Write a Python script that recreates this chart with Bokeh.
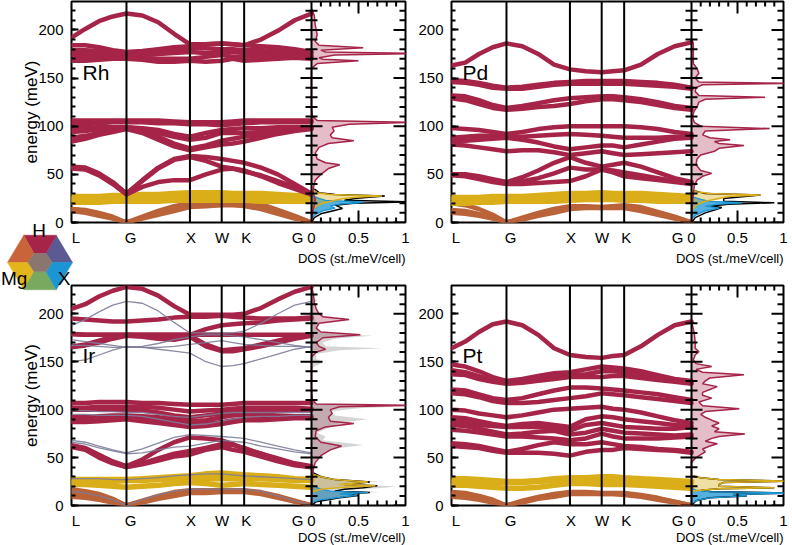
import math
from bokeh.plotting import figure
from bokeh.models import (Range1d, LinearAxis, SingleIntervalTicker, FixedTicker,
                          Span, GridBox)
from bokeh.layouts import column, row
from bokeh.core.properties import value
from bokeh.embed import file_html
from bokeh.resources import INLINE

FONT = "Liberation Sans"

# ---------------- path / axes ----------------
K_LABELS = ["L", "G", "X", "W", "K", "G"]
K_TICKS = [0.0, 0.866, 1.866, 2.366, 2.72, 3.781]
K_PTS = [0.0, 0.217, 0.433, 0.65, 0.866, 1.116, 1.366, 1.616, 1.866,
         2.116, 2.366, 2.543, 2.72, 2.985, 3.25, 3.516, 3.781]
Y_MAX = 229.5
Y_MAJOR = [0, 50, 100, 150, 200]
Y_MINOR = [v for v in range(0, 230, 10) if v % 50]
DOS_LABELS = [0, 0.5, 1]
DOS_MAJOR_IN = [0.5]
DOS_MINOR = [0.1, 0.2, 0.3, 0.4, 0.6, 0.7, 0.8, 0.9]

# ---------------- Rh ----------------
RH_H_BANDS = [
    [192, 201, 209, 214, 217, 215, 208, 196, 185, 185, 186, 185, 184, 190, 199, 210, 217],
    [184, 184, 182, 179, 177, 178, 180, 182, 183, 185, 186, 185, 184, 183, 182, 180, 177],
    [179, 179, 178, 177, 176, 177, 179, 180, 181, 181, 180, 180, 179, 179, 178, 177, 176],
    [175, 175, 175, 174, 173, 174, 175, 176, 177, 176, 176, 177, 176, 175, 175, 174, 173],
    [171, 171, 171, 172, 172, 171, 170, 170, 170, 172, 174, 172, 172, 173, 173, 172, 172],
    [168, 168, 169, 170, 170, 169, 167, 167, 168, 167, 168, 170, 168, 169, 170, 171, 170],
    [106, 106, 106, 106, 106, 106, 106, 105, 104, 104, 104, 105, 106, 106, 106, 106, 106],
    [102, 102, 103, 104, 104, 104, 103, 103, 102, 102, 101, 102, 103, 104, 104, 104, 104],
    [98, 98, 99, 99, 99, 98, 96, 92, 89, 93, 96, 97, 98, 98, 99, 99, 99],
    [94, 95, 97, 98, 99, 97, 93, 89, 86, 88, 93, 93, 93, 94, 96, 97, 99],
    [88, 90, 93, 96, 98, 95, 89, 82, 77, 80, 85, 87, 89, 91, 94, 96, 98],
    [84, 87, 91, 94, 97, 93, 86, 79, 75, 78, 81, 82, 84, 88, 92, 95, 97],
    [58, 57, 51, 42, 30, 44, 57, 66, 69, 68, 66, 64, 62, 57, 50, 40, 30],
    [57, 56, 50, 41, 30, 43, 56, 65, 68, 64, 58, 56, 53, 49, 43, 37, 30],
    [56, 55, 49, 40, 29, 37, 42, 44, 44, 50, 55, 56, 54, 48, 41, 35, 29],
]
RH_MG_BANDS = [
    [27, 27, 27, 28, 28, 29, 29, 30, 31, 31, 31, 30, 30, 30, 29, 28, 28],
    [24, 24, 24, 24, 25, 25, 26, 27, 27, 28, 28, 27, 26, 26, 25, 25, 25],
    [21, 21, 21, 22, 22, 22, 22, 23, 23, 23, 23, 23, 23, 22, 22, 22, 22],
]
RH_AC_BANDS = [
    [14, 13, 10, 6, 0, 6, 12, 17, 20, 21, 22, 22, 22, 19, 13, 7, 0],
    [14, 12, 9, 5, 0, 5, 10, 15, 18, 19, 20, 20, 20, 17, 12, 6, 0],
    [12, 10, 7, 4, 0, 4, 8, 12, 16, 17, 18, 18, 17, 14, 9, 4, 0],
]
RH_DOS_H_E = [0, 10, 18, 24, 30, 36, 44, 50, 56, 60, 62, 66, 72, 78, 82, 85, 88, 91, 95, 99,
              102, 104, 106, 110, 120, 160, 165, 168, 169.5, 171, 174, 175.5, 177, 179, 181.5,
              184, 188, 195, 205, 215, 222]
RH_DOS_H = [0, 0.01, 0.03, 0.04, 0.02, 0.02, 0.04, 0.1, 0.18, 0.3, 0.15, 0.06, 0.04, 0.08, 0.18,
            0.45, 0.22, 0.2, 0.24, 0.22, 0.4, 1.1, 0.06, 0.01, 0, 0, 0.06, 0.5, 0.12, 0.08, 0.25,
            1.1, 0.15, 0.1, 0.55, 0.08, 0.04, 0.06, 0.04, 0.03, 0]
RH_DOS_MG_E = [12, 17, 20, 23, 25, 26.5, 27.5, 29, 31, 34]
RH_DOS_MG = [0, 0.05, 0.12, 0.25, 0.35, 0.5, 0.75, 0.2, 0.06, 0]
RH_DOS_X_E = [4, 8, 12, 15, 17, 19, 20.5, 21.5, 23, 25, 28]
RH_DOS_X = [0, 0.04, 0.12, 0.25, 0.2, 0.3, 0.5, 0.55, 0.15, 0.08, 0]
RH_DOS_T_E = [0, 5, 9, 12, 14.5, 16, 18, 20, 21.5, 23, 25, 27.5, 29, 31, 35]
RH_DOS_T = [0, 0.03, 0.1, 0.22, 0.33, 0.3, 0.25, 0.45, 1.05, 0.35, 0.45, 0.78, 0.25, 0.08, 0.03]

# ---------------- Pd ----------------
PD_H_BANDS = [
    [163, 166, 175, 182, 186, 183, 175, 164, 159, 157, 156, 157, 158, 164, 175, 183, 187],
    [148, 147, 145, 142, 140, 141, 143, 145, 146, 147, 147, 147, 147, 146, 145, 143, 140],
    [146, 145, 143, 140, 139, 139, 141, 143, 144, 144, 144, 144, 144, 143, 142, 141, 139],
    [132, 131, 127, 122, 119, 121, 124, 127, 129, 130, 131, 131, 130, 128, 125, 121, 119],
    [129, 127, 123, 119, 117, 118, 120, 121, 123, 126, 128, 128, 127, 125, 122, 119, 117],
    [98, 97, 96, 94, 92, 94, 97, 99, 100, 100, 100, 100, 100, 99, 97, 94, 92],
    [88, 89, 90, 90, 89, 89, 90, 91, 92, 91, 90, 89, 88, 88, 88, 89, 89],
    [84, 85, 86, 87, 88, 86, 83, 79, 76, 78, 80, 80, 78, 81, 84, 87, 88],
    [81, 80, 78, 76, 74, 75, 75, 73, 70, 72, 74, 72, 70, 71, 72, 73, 74],
    [50, 50, 48, 45, 42, 47, 54, 62, 68, 62, 58, 60, 62, 58, 52, 46, 42],
    [50, 49, 47, 44, 41, 43, 46, 51, 57, 55, 55, 54, 52, 49, 46, 43, 41],
    [49, 48, 45, 42, 40, 40, 41, 42, 43, 48, 55, 52, 48, 46, 44, 42, 40],
]
PD_MG_BANDS = [
    [26, 26, 26, 27, 27, 27, 28, 29, 30, 30, 31, 30, 30, 30, 29, 28, 27],
    [24, 24, 24, 24, 24, 25, 25, 26, 27, 27, 28, 27, 27, 26, 26, 25, 24],
    [20, 20, 21, 21, 22, 22, 22, 22, 23, 24, 24, 24, 23, 23, 22, 22, 22],
]
PD_AC_BANDS = [
    [20, 18, 14, 8, 0, 5, 10, 14, 17, 17, 16, 17, 18, 16, 11, 6, 0],
    [13, 12, 9, 5, 0, 4, 8, 12, 16, 16, 15, 16, 17, 14, 9, 5, 0],
    [10, 9, 7, 4, 0, 3, 7, 10, 14, 15, 15, 15, 15, 12, 8, 4, 0],
]
PD_DOS_H_E = [0, 20, 30, 38, 44, 48, 51, 54, 60, 66, 70, 74, 77, 80, 82, 84, 86, 88, 91, 95,
              97.5, 100, 104, 110, 116, 120, 125, 128, 130, 132, 136, 140, 143, 144.5, 146, 150,
              155, 160, 165, 175, 185, 190]
PD_DOS_H = [0, 0.01, 0.02, 0.03, 0.06, 0.12, 0.22, 0.1, 0.05, 0.06, 0.1, 0.25, 0.3, 0.57, 0.3,
            0.25, 0.42, 0.2, 0.12, 0.15, 0.85, 0.1, 0.03, 0.01, 0.03, 0.06, 0.08, 0.15, 0.8, 0.08,
            0.04, 0.05, 0.12, 1.1, 0.08, 0.04, 0.08, 0.06, 0.02, 0.02, 0.02, 0]
PD_DOS_MG_E = [12, 18, 22, 25, 27, 28.5, 30, 32, 34]
PD_DOS_MG = [0, 0.05, 0.15, 0.3, 0.4, 0.75, 0.2, 0.05, 0]
PD_DOS_X_E = [4, 8, 12, 15, 17, 19, 20.5, 22, 24, 27]
PD_DOS_X = [0, 0.05, 0.15, 0.3, 0.15, 0.3, 0.55, 0.2, 0.1, 0]
PD_DOS_T_E = [0, 5, 10, 13, 15.5, 17, 19, 20.5, 22, 25, 28.5, 30, 33]
PD_DOS_T = [0, 0.04, 0.15, 0.25, 0.33, 0.2, 0.4, 0.9, 0.35, 0.35, 0.75, 0.15, 0.03]

# ---------------- Ir ----------------
IR_H_BANDS = [
    [205, 210, 218, 224, 228, 226, 219, 208, 199, 199, 199, 199, 200, 206, 215, 223, 228],
    [195, 194, 193, 192, 192, 193, 194, 196, 197, 197, 198, 197, 196, 195, 195, 195, 196],
    [179, 178, 178, 178, 178, 178, 178, 178, 178, 184, 188, 189, 190, 191, 193, 194, 195],
    [179, 178, 178, 178, 178, 178, 178, 178, 178, 178, 178, 178, 178, 178, 178, 178, 178],
    [166, 168, 172, 176, 178, 177, 175, 175, 177, 168, 162, 163, 164, 168, 172, 176, 178],
    [165, 167, 170, 174, 177, 176, 174, 173, 176, 166, 161, 161, 163, 166, 170, 174, 177],
    [107, 107, 108, 108, 108, 107, 107, 106, 105, 105, 105, 106, 107, 107, 107, 107, 107],
    [102, 102, 103, 103, 103, 103, 102, 100, 98, 99, 100, 101, 102, 102, 102, 102, 101],
    [100, 100, 100, 100, 100, 99, 97, 94, 92, 94, 96, 97, 98, 98, 99, 100, 100],
    [92, 92, 93, 94, 94, 93, 92, 90, 88, 89, 92, 94, 95, 95, 94, 93, 93],
    [88, 88, 89, 90, 91, 90, 88, 86, 84, 85, 87, 89, 90, 91, 91, 92, 92],
    [87, 87, 88, 89, 90, 88, 86, 84, 82, 83, 85, 87, 89, 89, 90, 91, 91],
    [63, 60, 53, 46, 41, 48, 58, 66, 71, 70, 68, 64, 59, 54, 49, 44, 41],
    [62, 59, 51, 45, 40, 44, 49, 54, 57, 60, 64, 63, 60, 54, 48, 43, 40],
    [61, 58, 50, 44, 40, 43, 47, 51, 53, 58, 61, 58, 56, 51, 46, 42, 40],
]
IR_MG_BANDS = [
    [27, 27, 27, 27, 27, 28, 29, 30, 31, 33, 34, 33, 32, 31, 30, 28, 27],
    [24, 24, 25, 25, 26, 26, 27, 28, 28, 28, 28, 28, 28, 28, 27, 26, 26],
    [22, 22, 21, 20, 19, 20, 21, 23, 24, 23, 21, 22, 23, 22, 21, 20, 19],
]
IR_AC_BANDS = [
    [17, 15, 12, 7, 0, 5, 10, 14, 16, 16, 16, 16, 16, 14, 10, 5, 0],
    [13, 12, 9, 5, 0, 4, 9, 12, 15, 15, 15, 15, 15, 13, 9, 4, 0],
    [9, 8, 6, 3, 0, 3, 7, 10, 13, 13, 14, 14, 14, 12, 8, 4, 0],
]
IR_REF_BANDS = [
    [188, 194, 202, 209, 213, 211, 203, 191, 180, 180, 180, 180, 182, 190, 200, 209, 213],
    [173, 171, 169, 167, 165, 166, 169, 173, 176, 178, 178, 177, 176, 173, 170, 167, 165],
    [167, 167, 166, 165, 165, 165, 165, 166, 168, 170, 172, 170, 168, 167, 166, 166, 165],
    [150, 152, 157, 162, 166, 165, 163, 161, 159, 150, 145, 146, 148, 153, 158, 163, 166],
    [99, 99, 98, 98, 97, 97, 95, 93, 92, 94, 96, 97, 97, 97, 97, 97, 97],
    [95, 95, 94, 94, 94, 93, 90, 87, 84, 85, 88, 90, 92, 93, 93, 94, 94],
    [68, 66, 62, 58, 55, 59, 65, 71, 74, 73, 72, 71, 70, 66, 62, 58, 55],
    [66, 64, 60, 57, 54, 55, 58, 61, 62, 65, 68, 67, 66, 62, 59, 56, 54],
    [28, 28, 28, 27, 27, 28, 29, 31, 32, 33, 33, 32, 31, 30, 29, 28, 27],
    [15, 13, 10, 6, 0, 6, 11, 15, 17, 17, 17, 17, 17, 15, 10, 5, 0],
]
IR_DOS_H_E = [0, 30, 38, 45, 52, 58, 62, 66, 72, 78, 82, 85.5, 88, 92, 96, 100, 103, 104.5, 106,
              110, 120, 155, 160, 163, 166, 170, 175, 178, 181, 185, 190, 194, 197, 200, 205, 212,
              220, 229]
IR_DOS_H = [0, 0.01, 0.02, 0.04, 0.1, 0.2, 0.32, 0.1, 0.04, 0.05, 0.15, 0.45, 0.2, 0.18, 0.22,
            0.2, 0.3, 1.1, 0.05, 0.01, 0, 0, 0.05, 0.15, 0.08, 0.05, 0.12, 0.52, 0.1, 0.05, 0.08,
            0.4, 0.12, 0.08, 0.05, 0.03, 0.02, 0]
IR_DOS_MG_E = [14, 17, 19, 20.5, 22, 24.5, 27, 30, 33]
IR_DOS_MG = [0, 0.1, 0.35, 0.68, 0.3, 0.6, 0.25, 0.1, 0]
IR_DOS_X_E = [3, 6, 8.5, 10.5, 12, 13.5, 15, 17, 19, 22]
IR_DOS_X = [0, 0.1, 0.3, 0.48, 0.3, 0.6, 0.2, 0.1, 0.05, 0]
IR_DOS_T_E = [0, 4, 8, 10.5, 12, 13.5, 15, 17, 18.5, 20.5, 22, 24.5, 27, 30, 34]
IR_DOS_T = [0, 0.05, 0.3, 0.5, 0.35, 0.62, 0.25, 0.35, 0.55, 0.7, 0.35, 0.62, 0.25, 0.1, 0.02]
IR_DOS_REF_E = [0, 5, 9, 11, 14, 16, 18.5, 20, 22, 25, 27, 30, 34, 45, 50, 56, 60, 63, 68, 72,
                76, 82, 86, 90, 94, 98, 101.5, 103, 106, 112, 140, 145, 149, 153, 158, 162, 164,
                166, 170, 174, 177, 180, 184, 190, 200, 210, 214, 218]
IR_DOS_REF = [0, 0.05, 0.45, 0.3, 0.72, 0.3, 0.78, 0.9, 0.4, 0.72, 0.3, 0.15, 0.03, 0.02, 0.06,
              0.15, 0.3, 0.55, 0.12, 0.15, 0.06, 0.2, 0.3, 0.6, 0.25, 0.2, 0.5, 0.9, 0.05, 0.01,
              0, 0.03, 0.12, 0.05, 0.05, 0.3, 0.75, 0.15, 0.12, 0.25, 0.65, 0.1, 0.05, 0.04, 0.03,
              0.02, 0.06, 0]

# ---------------- Pt ----------------
PT_H_BANDS = [
    [164, 171, 181, 189, 192, 188, 178, 164, 157, 155, 154, 156, 157, 166, 178, 188, 192],
    [147, 145, 140, 134, 130, 132, 135, 138, 139, 142, 145, 144, 143, 140, 136, 132, 130],
    [141, 139, 135, 131, 128, 130, 133, 135, 136, 137, 140, 140, 139, 137, 134, 130, 128],
    [137, 136, 132, 129, 127, 128, 130, 132, 134, 134, 134, 135, 135, 133, 131, 129, 127],
    [121, 120, 116, 112, 110, 112, 116, 120, 123, 123, 122, 121, 120, 118, 116, 113, 110],
    [117, 116, 113, 109, 107, 107, 108, 110, 112, 114, 117, 116, 115, 113, 111, 109, 107],
    [100, 99, 96, 94, 92, 94, 97, 100, 101, 102, 103, 101, 100, 97, 93, 89, 86],
    [92, 91, 88, 85, 83, 85, 86, 84, 82, 90, 93, 92, 90, 88, 86, 84, 83],
    [88, 87, 84, 83, 82, 82, 82, 80, 78, 84, 86, 84, 82, 81, 80, 80, 82],
    [84, 83, 80, 77, 74, 75, 77, 78, 74, 76, 80, 78, 76, 75, 74, 73, 74],
    [79, 78, 76, 74, 72, 72, 71, 70, 68, 70, 75, 72, 70, 70, 70, 71, 72],
    [65, 64, 62, 59, 56, 59, 63, 66, 64, 64, 66, 64, 62, 61, 59, 58, 56],
    [62, 61, 60, 57, 55, 55, 55, 54, 52, 56, 58, 58, 60, 59, 58, 57, 55],
]
PT_MG_BANDS = [
    [28, 28, 27, 26, 25, 25, 26, 28, 29, 29, 30, 30, 29, 28, 27, 26, 25],
    [24, 24, 24, 24, 24, 24, 25, 26, 27, 27, 27, 27, 26, 26, 25, 24, 24],
    [21, 21, 20, 19, 18, 18, 19, 21, 23, 23, 22, 22, 22, 21, 20, 19, 18],
]
PT_AC_BANDS = [
    [14, 13, 10, 6, 0, 5, 9, 12, 14, 14, 13, 13, 13, 11, 8, 4, 0],
    [12, 11, 8, 5, 0, 4, 8, 11, 13, 13, 12, 12, 12, 10, 7, 4, 0],
    [9, 8, 6, 3, 0, 3, 7, 9, 12, 12, 12, 12, 11, 9, 6, 3, 0],
]
PT_DOS_H_E = [0, 45, 50, 53, 56, 59, 62, 64.5, 67, 70, 72, 74.5, 77, 80, 83, 86, 89, 92, 95, 98,
              101, 104, 108, 112, 115, 118, 121, 124, 127, 130, 133, 136.5, 139, 142, 145, 148,
              152, 157, 160.5, 164, 170, 180, 192]
PT_DOS_H = [0, 0, 0.05, 0.1, 0.15, 0.12, 0.2, 0.28, 0.15, 0.22, 0.3, 0.58, 0.25, 0.3, 0.22, 0.3,
            0.22, 0.15, 0.1, 0.15, 0.52, 0.12, 0.08, 0.22, 0.12, 0.12, 0.2, 0.28, 0.12, 0.15, 0.2,
            0.57, 0.12, 0.05, 0.22, 0.05, 0.02, 0.04, 0.08, 0.04, 0.04, 0.03, 0]
PT_DOS_MG_E = [15, 17.5, 18.5, 20, 22, 24, 25.5, 27, 29, 31]
PT_DOS_MG = [0, 0.3, 0.9, 0.3, 0.3, 0.35, 1.1, 0.3, 0.1, 0]
PT_DOS_X_E = [2, 5, 8, 10, 11.5, 13, 14.5, 16, 18]
PT_DOS_X = [0, 0.05, 0.2, 0.6, 0.45, 1.1, 0.2, 0.05, 0]
PT_DOS_T_E = [0, 5, 8, 10, 11.5, 13, 14.5, 16, 17.5, 18.5, 20, 22, 24, 25.5, 27, 29, 31]
PT_DOS_T = [0, 0.05, 0.2, 0.6, 0.45, 1.1, 0.2, 0.1, 0.3, 0.9, 0.3, 0.3, 0.35, 1.1, 0.3, 0.1, 0]

for _b in (RH_H_BANDS + RH_MG_BANDS + RH_AC_BANDS + PD_H_BANDS + PD_MG_BANDS + PD_AC_BANDS +
           IR_H_BANDS + IR_MG_BANDS + IR_AC_BANDS + IR_REF_BANDS + PT_H_BANDS + PT_MG_BANDS +
           PT_AC_BANDS):
    assert len(_b) == len(K_PTS), _b

# ---------------- styling / geometry ----------------
C_H = "#A52448"
C_MG = "#D9AE19"
C_AC = "#BA6238"
C_X = "#1B95D3"
C_REF = "#7d7d9a"
HEX_COLORS = ["#5B5A93", "#A52448", "#C8633A", "#E2B51C", "#78A95E", "#1B95D3"]
HEX_CENTER_COLOR = "#8A766E"

PAGE_W, PAGE_H = 792, 545
K_END = K_TICKS[-1]
BAND_PX = 240
# label nudges (px) so the path letters sit as in the original figure
LABEL_NUDGE = [4.5, 4, 1, 0.5, 2, -14]
NAME_Y = 156


def make_panel(name, h_b, mg_b, ac_b, dh, dmg, dx, dt, dos_px, width, height,
               bl, br, bt, bb, ylabel=None, ref_b=None, dref=None):
    x_end = K_END * (BAND_PX + dos_px) / BAND_PX
    dos_start = -BAND_PX / dos_px
    k_per_px = K_END / BAND_PX
    p = figure(width=width, height=height, output_backend="svg", toolbar_location=None,
               x_range=Range1d(0, x_end), y_range=Range1d(0, Y_MAX),
               x_axis_type=None, y_axis_type=None,
               min_border_left=bl, min_border_right=br, min_border_top=bt, min_border_bottom=bb)
    p.extra_x_ranges = {"dos": Range1d(dos_start, 1)}
    p.outline_line_color = "black"
    p.outline_line_width = 2
    p.outline_line_alpha = 1
    p.background_fill_color = "white"
    p.border_fill_color = "white"

    # left axis
    yl = LinearAxis(ticker=SingleIntervalTicker(interval=50, num_minor_ticks=5),
                    major_tick_in=7, major_tick_out=0, minor_tick_in=4, minor_tick_out=0,
                    major_tick_line_width=2, minor_tick_line_width=2,
                    axis_line_color=None, major_label_standoff=8,
                    major_label_text_font=FONT, major_label_text_font_size="15px",
                    major_label_text_color="black")
    if ylabel:
        yl.axis_label = ylabel
        yl.axis_label_text_font = FONT
        yl.axis_label_text_font_size = "17px"
        yl.axis_label_text_font_style = "normal"
        yl.axis_label_text_color = "black"
        yl.axis_label_standoff = -6
    p.add_layout(yl, "left")

    # bottom labels (path letters + DOS values), no tick marks
    pos = [round(k + n * k_per_px, 5) for k, n in zip(K_TICKS, LABEL_NUDGE)]
    dpos = [round(K_END + d * dos_px * k_per_px, 5) for d in DOS_LABELS]
    overrides = {q: lab for q, lab in zip(pos, K_LABELS)}
    overrides.update({q: s for q, s in zip(dpos, ["0", "0.5", "1"])})
    xb = LinearAxis(ticker=FixedTicker(ticks=pos + dpos, minor_ticks=[]),
                    major_label_overrides=overrides,
                    major_tick_in=0, major_tick_out=0, minor_tick_in=0, minor_tick_out=0,
                    axis_line_color=None, major_label_standoff=6,
                    major_label_text_font=FONT, major_label_text_font_size="15px",
                    major_label_text_color="black")
    p.add_layout(xb, "below")

    # bands
    p.multi_line(xs=[K_PTS] * len(ac_b), ys=ac_b, line_color=C_AC, line_width=4.5,
                 line_cap="round", line_join="round")
    p.multi_line(xs=[K_PTS] * len(mg_b), ys=mg_b, line_color=C_MG, line_width=5.5,
                 line_cap="round", line_join="round")
    p.multi_line(xs=[K_PTS] * len(h_b), ys=h_b, line_color=C_H, line_width=4.5,
                 line_cap="round", line_join="round")
    if ref_b:
        p.multi_line(xs=[K_PTS] * len(ref_b), ys=ref_b, line_color=C_REF, line_width=1.3,
                     line_alpha=0.9)

    # DOS
    (dxe, dxv), (dme, dmv), (dhe, dhv), (dte, dtv) = dx, dmg, dh, dt
    p.harea(y=dxe, x1=0, x2=dxv, x_range_name="dos", fill_color=C_X, fill_alpha=0.75)
    p.harea(y=dme, x1=0, x2=dmv, x_range_name="dos", fill_color=C_MG, fill_alpha=0.4)
    p.harea(y=dhe, x1=0, x2=dhv, x_range_name="dos", fill_color=C_H, fill_alpha=0.3)
    if dref:
        p.harea(y=dref[0], x1=0, x2=dref[1], x_range_name="dos", fill_color="#888888",
                fill_alpha=0.35)
    p.line(x=dtv, y=dte, x_range_name="dos", line_color="black", line_width=1.5)
    p.line(x=dxv, y=dxe, x_range_name="dos", line_color=C_X, line_width=1.3)
    p.line(x=dmv, y=dme, x_range_name="dos", line_color=C_MG, line_width=1.5)
    p.line(x=dhv, y=dhe, x_range_name="dos", line_color=C_H, line_width=1.5)

    # high-symmetry lines
    for k in K_TICKS[1:]:
        p.add_layout(Span(location=k, dimension="height", line_color="black", line_width=2))

    # tick marks drawn as dash markers (clipped by the frame -> inward ticks)
    tk = dict(marker="dash", line_color="black", line_width=2)
    p.scatter(x=[K_END] * len(Y_MAJOR), y=Y_MAJOR, size=22, **tk)
    p.scatter(x=[K_END] * len(Y_MINOR), y=Y_MINOR, size=12, **tk)
    p.scatter(x=[x_end] * len(Y_MAJOR), y=Y_MAJOR, size=24, **tk)
    p.scatter(x=[x_end] * len(Y_MINOR), y=Y_MINOR, size=12, **tk)
    for yv in (0, Y_MAX):
        p.scatter(x=DOS_MAJOR_IN, y=[yv] * len(DOS_MAJOR_IN), x_range_name="dos",
                  size=24, angle=math.pi / 2, **tk)
        p.scatter(x=DOS_MINOR, y=[yv] * len(DOS_MINOR), x_range_name="dos",
                  size=10, angle=math.pi / 2, **tk)

    # compound name
    p.text(x=[0], y=[NAME_Y], text=[name], x_offset=11, text_font=value(FONT),
           text_font_size="21px", text_baseline="alphabetic", text_color="black")
    return p


p_rh = make_panel("Rh", RH_H_BANDS, RH_MG_BANDS, RH_AC_BANDS,
                  (RH_DOS_H_E, RH_DOS_H), (RH_DOS_MG_E, RH_DOS_MG), (RH_DOS_X_E, RH_DOS_X),
                  (RH_DOS_T_E, RH_DOS_T), 94, 415, 262, 71, 10, 1, 40,
                  ylabel="energy (meV)")
p_pd = make_panel("Pd", PD_H_BANDS, PD_MG_BANDS, PD_AC_BANDS,
                  (PD_DOS_H_E, PD_DOS_H), (PD_DOS_MG_E, PD_DOS_MG), (PD_DOS_X_E, PD_DOS_X),
                  (PD_DOS_T_E, PD_DOS_T), 92, 377, 262, 36, 9, 1, 40)
p_ir = make_panel("Ir", IR_H_BANDS, IR_MG_BANDS, IR_AC_BANDS,
                  (IR_DOS_H_E, IR_DOS_H), (IR_DOS_MG_E, IR_DOS_MG), (IR_DOS_X_E, IR_DOS_X),
                  (IR_DOS_T_E, IR_DOS_T), 94, 415, 283, 71, 10, 23, 40,
                  ylabel="energy (meV)", ref_b=IR_REF_BANDS, dref=(IR_DOS_REF_E, IR_DOS_REF))
p_pt = make_panel("Pt", PT_H_BANDS, PT_MG_BANDS, PT_AC_BANDS,
                  (PT_DOS_H_E, PT_DOS_H), (PT_DOS_MG_E, PT_DOS_MG), (PT_DOS_X_E, PT_DOS_X),
                  (PT_DOS_T_E, PT_DOS_T), 92, 377, 283, 36, 9, 23, 40)

# ---------------- transparent overlay in page pixels ----------------
ov = figure(width=PAGE_W, height=PAGE_H, output_backend="svg", toolbar_location=None,
            x_range=Range1d(0, PAGE_W), y_range=Range1d(PAGE_H, 0),
            x_axis_type=None, y_axis_type=None, min_border=0)
ov.outline_line_color = None
ov.background_fill_alpha = 0
ov.border_fill_alpha = 0

HEX_C = (39.5, 262)
HEX_OUT = (32.5, 31.5)
HEX_IN = (12, 10.5)


def hex_vert(i, r):
    a = math.radians(60 * i)
    return (HEX_C[0] + r[0] * math.cos(a), HEX_C[1] - r[1] * math.sin(a))


sec_xs, sec_ys = [], []
for i in range(6):
    pts = [hex_vert(i, HEX_OUT), hex_vert(i + 1, HEX_OUT), hex_vert(i + 1, HEX_IN),
           hex_vert(i, HEX_IN)]
    sec_xs.append([q[0] for q in pts])
    sec_ys.append([q[1] for q in pts])
inner = [hex_vert(i, HEX_IN) for i in range(6)]
sec_xs.append([q[0] for q in inner])
sec_ys.append([q[1] for q in inner])
ov.patches(xs=sec_xs, ys=sec_ys, fill_color=HEX_COLORS + [HEX_CENTER_COLOR],
           line_color=HEX_COLORS + [HEX_CENTER_COLOR], line_width=0.5)

ov.text(x=[38.5], y=[230], text=["H"], text_font=value(FONT), text_font_size="19px",
        text_align="center", text_baseline="alphabetic", text_color="black")
ov.text(x=[0.5], y=[278], text=["Mg"], text_font=value(FONT), text_font_size="19px",
        text_align="left", text_baseline="alphabetic", text_color="black")
ov.text(x=[63.5], y=[278], text=["X"], text_font=value(FONT), text_font_size="19px",
        text_align="center", text_baseline="alphabetic", text_color="black")

# "DOS (st./meV/cell)" under each DOS column (right edge of frame, below tick labels)
DOS_RIGHT = [405, 783, 405, 783]
DOS_BASE = [258, 258, 537, 537]
ov.text(x=DOS_RIGHT, y=DOS_BASE, text=["DOS (st./meV/cell)"] * 4, text_font=value(FONT),
        text_font_size="13px", text_align="right", text_baseline="alphabetic",
        text_color="black")

panels = column(row(p_rh, p_pd), row(p_ir, p_pt))
layout = GridBox(children=[(panels, 0, 0), (ov, 0, 0)], spacing=0)
open("out.html", "w").write(file_html(layout, INLINE))
